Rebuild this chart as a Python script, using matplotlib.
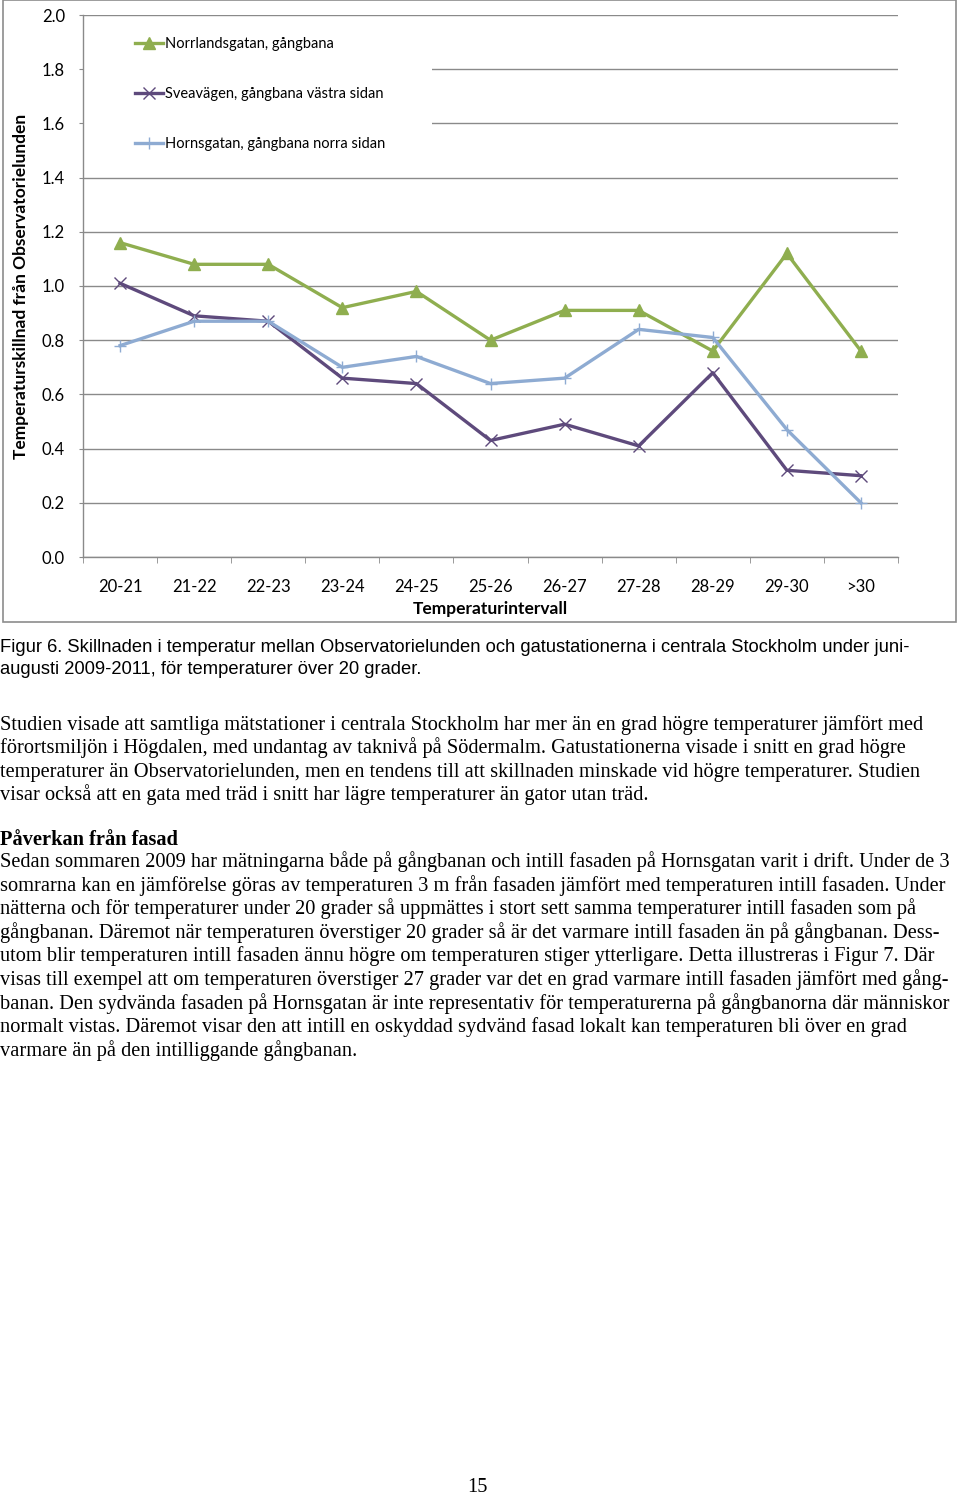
import matplotlib
matplotlib.use('Agg')
import matplotlib.pyplot as plt
from matplotlib.patches import Rectangle

# chart data
categories = ['20-21', '21-22', '22-23', '23-24', '24-25', '25-26',
              '26-27', '27-28', '28-29', '29-30', '>30']
norrlandsgatan = [1.16, 1.08, 1.08, 0.92, 0.98, 0.80, 0.91, 0.91, 0.76, 1.12, 0.76]
sveavagen = [1.01, 0.89, 0.87, 0.66, 0.64, 0.43, 0.49, 0.41, 0.68, 0.32, 0.30]
hornsgatan = [0.78, 0.87, 0.87, 0.70, 0.74, 0.64, 0.66, 0.84, 0.81, 0.47, 0.20]
series_labels = ['Norrlandsgatan, gångbana',
                 'Sveavägen, gångbana västra sidan',
                 'Hornsgatan, gångbana norra sidan']
y_ticks = [0.0, 0.2, 0.4, 0.6, 0.8, 1.0, 1.2, 1.4, 1.6, 1.8, 2.0]

caption = ['Figur 6. Skillnaden i temperatur mellan Observatorielunden och gatustationerna i centrala Stockholm under juni-',
           'augusti 2009-2011, för temperaturer över 20 grader.']
para1 = ['Studien visade att samtliga mätstationer i centrala Stockholm har mer än en grad högre temperaturer jämfört med',
         'förortsmiljön i Högdalen, med undantag av taknivå på Södermalm. Gatustationerna visade i snitt en grad högre',
         'temperaturer än Observatorielunden, men en tendens till att skillnaden minskade vid högre temperaturer. Studien',
         'visar också att en gata med träd i snitt har lägre temperaturer än gator utan träd.']
heading = 'Påverkan från fasad'
para2 = ['Sedan sommaren 2009 har mätningarna både på gångbanan och intill fasaden på Hornsgatan varit i drift. Under de 3',
         'somrarna kan en jämförelse göras av temperaturen 3 m från fasaden jämfört med temperaturen intill fasaden. Under',
         'nätterna och för temperaturer under 20 grader så uppmättes i stort sett samma temperaturer intill fasaden som på',
         'gångbanan. Däremot när temperaturen överstiger 20 grader så är det varmare intill fasaden än på gångbanan. Dess-',
         'utom blir temperaturen intill fasaden ännu högre om temperaturen stiger ytterligare. Detta illustreras i Figur 7. Där',
         'visas till exempel att om temperaturen överstiger 27 grader var det en grad varmare intill fasaden jämfört med gång-',
         'banan. Den sydvända fasaden på Hornsgatan är inte representativ för temperaturerna på gångbanorna där människor',
         'normalt vistas. Däremot visar den att intill en oskyddad sydvänd fasad lokalt kan temperaturen bli över en grad',
         'varmare än på den intilliggande gångbanan.']

W, H = 960, 1497
fig = plt.figure(figsize=(W / 100, H / 100), dpi=100)

def fy(px):
    return 1 - px / H

# outer chart frame
fig.patches.append(Rectangle((3 / W, fy(622)), 953 / W, 622 / H, transform=fig.transFigure,
                             fill=False, edgecolor='#8c8c8c', linewidth=1.2))

ax = fig.add_axes([83 / W, fy(557), 815 / W, 542 / H])
x = list(range(len(categories)))
chart_font = 'Lato'

ax.plot(x, norrlandsgatan, color='#8FAE4F', lw=2.4, marker='^', ms=8.5, zorder=3,
        label=series_labels[0])
ax.plot(x, sveavagen, color='#5E4A7C', lw=2.4, marker='x', ms=8, mew=1.0, zorder=3,
        label=series_labels[1])
ax.plot(x, hornsgatan, color='#8EABD2', lw=2.4, marker='+', ms=9, mew=1.0, zorder=3,
        label=series_labels[2])

ax.set_xlim(-0.5, len(categories) - 0.5)
ax.set_ylim(0, 2.0)
ax.set_axisbelow(True)
ax.yaxis.grid(True, color='#8a8a8a', lw=1.0)
for s in ['top', 'right']:
    ax.spines[s].set_visible(False)
for s in ['left', 'bottom']:
    ax.spines[s].set_color('#8a8a8a')
    ax.spines[s].set_linewidth(1.0)

ax.set_xticks(x)
ax.set_xticklabels(categories, fontfamily=chart_font, fontsize=12)
ax.set_xticks([i - 0.5 for i in range(len(categories) + 1)], minor=True)
ax.tick_params(axis='x', which='major', length=0, pad=16)
ax.tick_params(axis='x', which='minor', length=4, color='#8a8a8a', direction='out')
ax.set_yticks(y_ticks)
ax.set_yticklabels([f'{v:.1f}' for v in y_ticks], fontfamily=chart_font, fontsize=12)
ax.tick_params(axis='y', length=3, color='#8a8a8a', pad=10)

ax.set_xlabel('Temperaturintervall', fontfamily=chart_font, fontweight='bold',
              fontsize=12.5, labelpad=4.5)
ax.set_ylabel('Temperaturskillnad från Observatorielunden', fontfamily=chart_font,
              fontweight='bold', fontsize=12.5, labelpad=9)

# white box behind the legend (hides gridlines as in the original)
ax.add_patch(Rectangle((-0.49, 1.45), 4.7, 0.52, facecolor='white', edgecolor='none', zorder=1))
ax.legend(loc='upper left', bbox_to_anchor=(0.0638, 0.96), frameon=False,
          prop={'family': chart_font, 'size': 10.5}, borderpad=0, borderaxespad=0,
          handlelength=1.9, handletextpad=0.15, labelspacing=2.48)

# caption
cap_y = [652, 674]
for t, yy in zip(caption, cap_y):
    fig.text(0 / W, fy(yy), t, fontfamily='Liberation Sans', fontsize=13.2, va='baseline')

serif = 'Liberation Serif'
body_size = 14.7
p1_y = [730, 753.5, 777, 800.5]
for t, yy in zip(para1, p1_y):
    fig.text(0 / W, fy(yy), t, fontfamily=serif, fontsize=body_size, va='baseline')

fig.text(0 / W, fy(845), heading, fontfamily=serif, fontsize=body_size, fontweight='bold', va='baseline')
for i, t in enumerate(para2):
    fig.text(0 / W, fy(867 + i * 23.6), t, fontfamily=serif, fontsize=body_size, va='baseline')

fig.text(477 / W, fy(1492), '15', fontfamily=serif, fontsize=body_size, ha='center', va='baseline')

fig.savefig('out.png', dpi=100, facecolor='white')
